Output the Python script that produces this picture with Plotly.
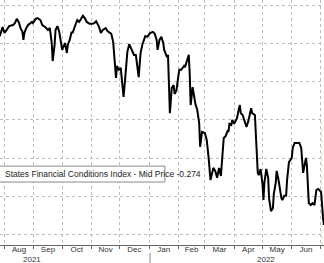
import plotly.graph_objects as go

dates = [
    "2021-07-27", "2021-07-30", "2021-08-01", "2021-08-03", "2021-08-06", "2021-08-10",
    "2021-08-12", "2021-08-14", "2021-08-16", "2021-08-18", "2021-08-20", "2021-08-21",
    "2021-08-22", "2021-08-24", "2021-08-26", "2021-08-30", "2021-08-31", "2021-09-03",
    "2021-09-05", "2021-09-08", "2021-09-10", "2021-09-13", "2021-09-16", "2021-09-18",
    "2021-09-20", "2021-09-21", "2021-09-23", "2021-09-24", "2021-09-26", "2021-09-28",
    "2021-09-30", "2021-10-01", "2021-10-04", "2021-10-06", "2021-10-07", "2021-10-09",
    "2021-10-11", "2021-10-12", "2021-10-15", "2021-10-17", "2021-10-19", "2021-10-23",
    "2021-10-25", "2021-10-27", "2021-10-30", "2021-11-02", "2021-11-04", "2021-11-06",
    "2021-11-09", "2021-11-11", "2021-11-13", "2021-11-16", "2021-11-18", "2021-11-22",
    "2021-11-24", "2021-11-27", "2021-11-28", "2021-11-30", "2021-12-02", "2021-12-04",
    "2021-12-05", "2021-12-07", "2021-12-09", "2021-12-11", "2021-12-13", "2021-12-16",
    "2021-12-18", "2021-12-21", "2021-12-23", "2021-12-25", "2021-12-28", "2021-12-30",
    "2022-01-02", "2022-01-05", "2022-01-07", "2022-01-09", "2022-01-10", "2022-01-12",
    "2022-01-14", "2022-01-16", "2022-01-17", "2022-01-20", "2022-01-21", "2022-01-23",
    "2022-01-25", "2022-01-27", "2022-01-28", "2022-01-30", "2022-02-01", "2022-02-02",
    "2022-02-04", "2022-02-07", "2022-02-08", "2022-02-10", "2022-02-12", "2022-02-13",
    "2022-02-14", "2022-02-16", "2022-02-18", "2022-02-19", "2022-02-21", "2022-02-23",
    "2022-02-24", "2022-02-26", "2022-03-01", "2022-03-03", "2022-03-05", "2022-03-06",
    "2022-03-07", "2022-03-10", "2022-03-12", "2022-03-14", "2022-03-16", "2022-03-18",
    "2022-03-20", "2022-03-21", "2022-03-23", "2022-03-25", "2022-03-26", "2022-03-27",
    "2022-03-29", "2022-03-30", "2022-04-01", "2022-04-04", "2022-04-06", "2022-04-07",
    "2022-04-08", "2022-04-10", "2022-04-11", "2022-04-14", "2022-04-16", "2022-04-17",
    "2022-04-19", "2022-04-20", "2022-04-23", "2022-04-24", "2022-04-25", "2022-04-26",
    "2022-04-27", "2022-04-29", "2022-05-01", "2022-05-02", "2022-05-03", "2022-05-05",
    "2022-05-07", "2022-05-08", "2022-05-10", "2022-05-12", "2022-05-13", "2022-05-15",
    "2022-05-16", "2022-05-18", "2022-05-21", "2022-05-22", "2022-05-24", "2022-05-26",
    "2022-05-27", "2022-05-29", "2022-06-01", "2022-06-02", "2022-06-04", "2022-06-06",
    "2022-06-09", "2022-06-11", "2022-06-12", "2022-06-13", "2022-06-16", "2022-06-17",
    "2022-06-19", "2022-06-21", "2022-06-23", "2022-06-25", "2022-06-27", "2022-06-29",
    "2022-07-02", "2022-07-03", "2022-07-04", "2022-07-05",
]

values = [
    0.219, 0.243, 0.227, 0.235, 0.245, 0.248,
    0.253, 0.264, 0.256, 0.240, 0.230, 0.209,
    0.227, 0.240, 0.248, 0.256, 0.253, 0.264,
    0.266, 0.261, 0.248, 0.243, 0.235, 0.240,
    0.201, 0.154, 0.196, 0.235, 0.245, 0.230,
    0.191, 0.183, 0.201, 0.175, 0.196, 0.209,
    0.230, 0.227, 0.248, 0.261, 0.256, 0.272,
    0.266, 0.256, 0.251, 0.251, 0.253, 0.258,
    0.243, 0.227, 0.235, 0.240, 0.232, 0.225,
    0.204, 0.110, 0.141, 0.131, 0.136, 0.094,
    0.060, 0.117, 0.178, 0.198, 0.188, 0.170,
    0.170, 0.112, 0.175, 0.198, 0.219, 0.217,
    0.227, 0.230, 0.225, 0.209, 0.183, 0.209,
    0.217, 0.201, 0.183, 0.164, 0.170, 0.018,
    0.084, 0.091, 0.068, 0.078, 0.115, 0.131,
    0.131, 0.141, 0.138, 0.157, 0.170, 0.120,
    0.039, 0.086, 0.057, 0.042, 0.026, -0.008,
    -0.070, -0.031, -0.034, -0.052, -0.099, -0.125,
    -0.157, -0.125, -0.133, -0.151, -0.125, -0.146,
    -0.065, -0.047, -0.042, -0.029, -0.031, -0.010,
    -0.013, 0.000, -0.010, 0.005, 0.029, 0.039,
    0.018, 0.013, 0.005, -0.018, -0.003, 0.008,
    0.031, 0.018, 0.013, -0.039, -0.091, -0.138,
    -0.144, -0.128, -0.167, -0.209, -0.164, -0.128,
    -0.151, -0.206, -0.238, -0.230, -0.193, -0.164,
    -0.133, -0.157, -0.204, -0.209, -0.198, -0.198,
    -0.157, -0.110, -0.099, -0.073, -0.060, -0.060,
    -0.060, -0.073, -0.104, -0.138, -0.099, -0.120,
    -0.217, -0.222, -0.217, -0.222, -0.183, -0.180,
    -0.188, -0.227, -0.253, -0.274,
]

series_name = "States Financial Conditions Index - Mid Price"
last_value = -0.274
year_labels = ["2021", "2022"]
year_label_dates = ["2021-08-30", "2022-05-05"]

FONT = "Liberation Sans Narrow, Arial Narrow, Liberation Sans, Arial, sans-serif"

fig = go.Figure()
fig.add_trace(go.Scatter(
    x=dates, y=values, mode="lines",
    line=dict(color="#000000", width=2),
    showlegend=False, hoverinfo="skip",
))

fig.update_layout(
    width=324, height=263,
    margin=dict(l=0, r=0, t=0, b=18),
    paper_bgcolor="white", plot_bgcolor="white",
    font=dict(family=FONT, size=8, color="#333333"),
    showlegend=False,
)

fig.update_xaxes(
    type="date",
    range=["2021-07-27 06:00", "2022-07-05 02:00"],
    tick0="2021-08-01", dtick="M1",
    ticklabelmode="period", tickformat="%b",
    showgrid=True, gridcolor="#bdbdbd", griddash="dot", gridwidth=1,
    ticks="outside", ticklen=3, tickcolor="#666666",
    ticklabelstandoff=-7,
    showline=True, linecolor="#666666", linewidth=1,
    tickfont=dict(family=FONT, size=8, color="#333333"),
    fixedrange=True,
)
fig.update_yaxes(
    range=[-0.3264, 0.3133],
    tick0=0, dtick=0.1,
    showticklabels=False,
    showgrid=True, gridcolor="#bdbdbd", griddash="dot", gridwidth=1,
    zeroline=False, showline=False,
    fixedrange=True,
)

# faint green marker on the right edge
fig.add_shape(type="line", xref="paper", yref="paper",
              x0=0.9935, x1=0.9935, y0=0.0, y1=0.51,
              line=dict(color="#cfe3b8", width=1, dash="dot"), layer="below")

# legend box
fig.add_shape(type="rect", xref="paper", yref="paper",
              x0=-0.05, x1=0.509, y0=0.257, y1=0.322,
              line=dict(color="#8a8a8a", width=1), fillcolor="white", layer="above")
fig.add_annotation(xref="paper", yref="paper", x=0.009, y=0.2895,
                   xanchor="left", yanchor="middle", showarrow=False,
                   text=f"{series_name} {last_value:.3f}",
                   font=dict(family=FONT, size=8.5, color="#222222"))

# year labels and separator
for lab, d in zip(year_labels, year_label_dates):
    fig.add_annotation(xref="x", yref="paper", x=d, y=-0.059,
                       xanchor="center", yanchor="middle", showarrow=False,
                       text=lab, font=dict(family=FONT, size=8, color="#333333"))
fig.add_shape(type="line", xref="x", yref="paper",
              x0="2022-01-02", x1="2022-01-02", y0=-0.033, y1=-0.08,
              line=dict(color="#888888", width=1))

fig.write_html("out.html")
